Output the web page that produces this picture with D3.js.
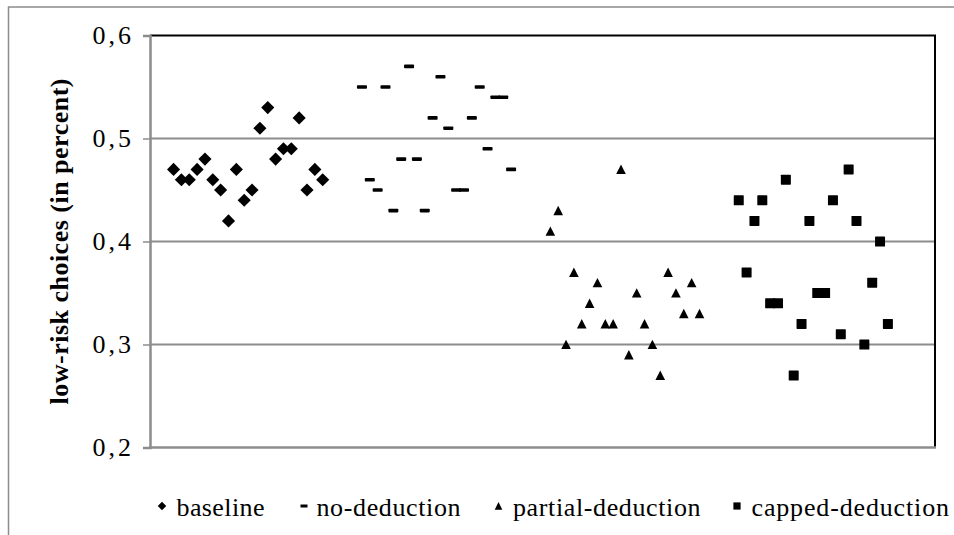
<!DOCTYPE html>
<html>
<head>
<meta charset="utf-8">
<script src="https://cdn.jsdelivr.net/npm/d3@7"></script>
<style>
  body { margin: 0; background: #fff; }
  svg { display: block; }
  text { font-family: "Liberation Serif", "Times New Roman", serif; fill: #000; }
</style>
</head>
<body>
<div id="chart"></div>
<script>
// Dữ liệu
const seriesNames = ["baseline", "no-deduction", "partial-deduction", "capped-deduction"];
const groupStart = [3, 27, 51, 75];
const baseline = [0.47, 0.46, 0.46, 0.47, 0.48, 0.46, 0.45, 0.42, 0.47, 0.44, 0.45, 0.51, 0.53, 0.48, 0.49, 0.49, 0.52, 0.45, 0.47, 0.46];
const noDeduction = [0.55, 0.46, 0.45, 0.55, 0.43, 0.48, 0.57, 0.48, 0.43, 0.52, 0.56, 0.51, 0.45, 0.45, 0.52, 0.55, 0.49, 0.54, 0.54, 0.47];
const partialDeduction = [0.41, 0.43, 0.30, 0.37, 0.32, 0.34, 0.36, 0.32, 0.32, 0.47, 0.29, 0.35, 0.32, 0.30, 0.27, 0.37, 0.35, 0.33, 0.36, 0.33];
const cappedDeduction = [0.44, 0.37, 0.42, 0.44, 0.34, 0.34, 0.46, 0.27, 0.32, 0.42, 0.35, 0.35, 0.44, 0.31, 0.47, 0.42, 0.30, 0.36, 0.40, 0.32];
const yTicks = [0.2, 0.3, 0.4, 0.5, 0.6];

const allSeries = [baseline, noDeduction, partialDeduction, cappedDeduction];

// Kích thước
const width = 954;
const height = 535;
const margin = { top: 35.5, right: 19, bottom: 87.5, left: 150 };

const svg = d3.select("#chart")
    .append("svg")
    .attr("width", width)
    .attr("height", height);

// Khung ngoài
svg.append("rect")
    .attr("x", 8.5).attr("y", 7)
    .attr("width", 960).attr("height", 540)
    .attr("fill", "none")
    .attr("stroke", "#8c8c8c")
    .attr("stroke-width", 1.5);

const x = d3.scaleLinear()
    .domain([0, 100])
    .range([margin.left, width - margin.right]);

const y = d3.scaleLinear()
    .domain([0.2, 0.6])
    .range([height - margin.bottom, margin.top]);

// Đường lưới
svg.append("g")
    .selectAll("line")
    .data(yTicks.slice(1, -1))
    .join("line")
    .attr("x1", margin.left)
    .attr("x2", width - margin.right)
    .attr("y1", d => y(d))
    .attr("y2", d => y(d))
    .attr("stroke", "#8c8c8c")
    .attr("stroke-width", 2);

// Viền vùng vẽ (trên + phải)
svg.append("path")
    .attr("d", `M${margin.left},${y(0.6)}H${x(100)}V${y(0.2)}`)
    .attr("fill", "none")
    .attr("stroke", "#000")
    .attr("stroke-width", 2);

// Trục X (không nhãn)
svg.append("line")
    .attr("x1", margin.left - 1)
    .attr("x2", x(100) + 1)
    .attr("y1", y(0.2))
    .attr("y2", y(0.2))
    .attr("stroke", "#8c8c8c")
    .attr("stroke-width", 2.5);

// Trục Y
const yAxis = svg.append("g")
    .attr("transform", `translate(${margin.left},0)`)
    .call(d3.axisLeft(y)
        .tickValues(yTicks)
        .tickSize(7)
        .tickPadding(12)
        .tickFormat(d => d3.format(".1f")(d).replace(".", ",")));

yAxis.select(".domain").attr("stroke", "#8c8c8c").attr("stroke-width", 2.5);
yAxis.selectAll(".tick line").attr("stroke", "#8c8c8c").attr("stroke-width", 1.5);
yAxis.selectAll(".tick text")
    .attr("font-family", "Liberation Serif, serif")
    .attr("font-size", "26px")
    .attr("textLength", 38.5)
    .attr("lengthAdjust", "spacing")
    .attr("fill", "#000");

// Tiêu đề trục Y
svg.append("text")
    .attr("transform", `translate(68,${(y(0.6) + y(0.2)) / 2}) rotate(-90)`)
    .attr("text-anchor", "middle")
    .attr("font-size", "26px")
    .attr("font-weight", "bold")
    .attr("textLength", 326)
    .attr("lengthAdjust", "spacing")
    .text("low-risk choices (in percent)");

// Ký hiệu điểm
const diamond = d3.symbol(d3.symbolSquare, 86)();
const markers = [
    sel => sel.append("path").attr("d", diamond).attr("transform", "rotate(45)"),
    sel => sel.append("rect").attr("x", -5).attr("y", -1.8).attr("width", 10).attr("height", 3.6).attr("rx", 0.8),
    sel => sel.append("path").attr("d", "M0,-4.8L4.8,4.6L-4.8,4.6Z"),
    sel => sel.append("rect").attr("x", -5).attr("y", -5).attr("width", 10).attr("height", 10).attr("rx", 0.6)
];

allSeries.forEach((vals, si) => {
    const g = svg.append("g").attr("class", "series-" + si);
    vals.forEach((v, i) => {
        const m = g.append("g")
            .attr("transform", `translate(${x(groupStart[si] + i)},${y(v)})`)
            .attr("fill", "#000");
        markers[si](m);
    });
});

// Chú thích
const legendX = [176.5, 316.5, 513, 751.5];
const legendW = [88, 144, 187.5, 197.5];
const legendMarkerX = [162, 304, 498.5, 737];
const legendY = 516;
const legendMarkers = [
    sel => sel.append("path").attr("d", d3.symbol(d3.symbolSquare, 36)()).attr("transform", "rotate(45)"),
    sel => sel.append("rect").attr("x", -3.5).attr("y", -1.5).attr("width", 7).attr("height", 3),
    sel => sel.append("path").attr("d", "M0,-4L3.8,3.8L-3.8,3.8Z"),
    sel => sel.append("rect").attr("x", -3.6).attr("y", -3.6).attr("width", 7.2).attr("height", 7.2)
];
const legend = svg.append("g");
seriesNames.forEach((name, i) => {
    const m = legend.append("g")
        .attr("transform", `translate(${legendMarkerX[i]},${legendY - 10})`)
        .attr("fill", "#000");
    legendMarkers[i](m);
    legend.append("text")
        .attr("x", legendX[i])
        .attr("y", legendY)
        .attr("font-size", "26px")
        .attr("textLength", legendW[i])
        .attr("lengthAdjust", "spacing")
        .text(name);
});
</script>
</body>
</html>
